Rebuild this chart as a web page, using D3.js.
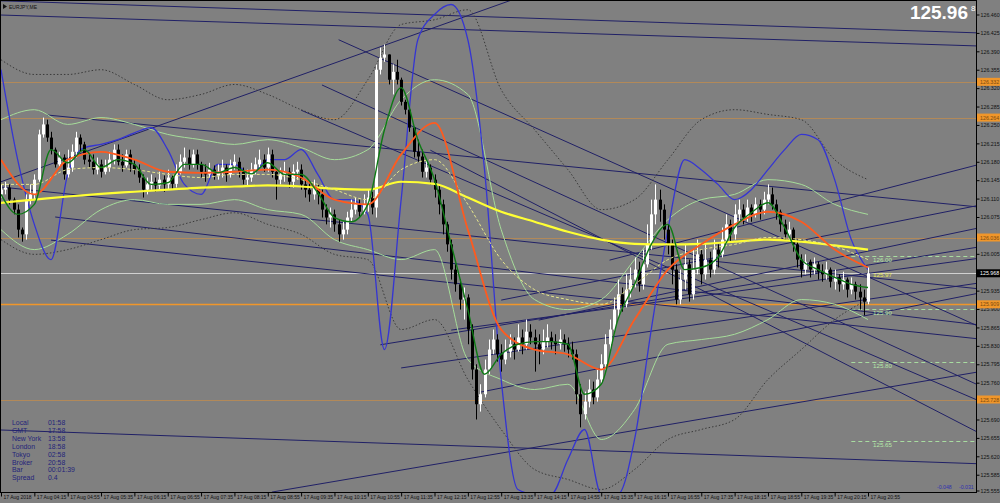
<!DOCTYPE html>
<html><head><meta charset="utf-8">
<script src="https://cdn.jsdelivr.net/npm/d3@7"></script>
<style>body{margin:0;background:#808080;}svg{display:block}</style>
</head><body><svg id="c" width="1000" height="503"></svg>
<script>
const symbol = "EURJPY,ME";
const timeLabels = ["17 Aug 2018","17 Aug 04:15","17 Aug 04:55","17 Aug 05:35","17 Aug 06:15","17 Aug 06:55","17 Aug 07:35","17 Aug 08:15","17 Aug 08:55","17 Aug 09:35","17 Aug 10:15","17 Aug 10:55","17 Aug 11:35","17 Aug 12:15","17 Aug 12:55","17 Aug 13:35","17 Aug 14:15","17 Aug 14:55","17 Aug 15:35","17 Aug 16:15","17 Aug 16:55","17 Aug 17:35","17 Aug 18:15","17 Aug 18:55","17 Aug 19:35","17 Aug 20:15","17 Aug 20:55"];
const priceTicks = [126.460,126.425,126.390,126.355,126.320,126.285,126.250,126.215,126.180,126.145,126.110,126.075,126.040,126.005,125.970,125.935,125.900,125.865,125.830,125.795,125.760,125.725,125.690,125.655,125.620,125.585,125.555];
const firstOpen = 126.118;
const closes = [126.127,126.131,126.108,126.089,126.051,126.042,126.108,126.118,126.146,126.232,
126.251,126.226,126.203,126.175,126.188,126.156,126.169,126.199,126.226,126.213,
126.184,126.180,126.165,126.175,126.161,126.169,126.184,126.203,126.180,126.173,
126.194,126.175,126.165,126.150,126.127,126.137,126.142,126.135,126.146,126.137,
126.150,126.138,126.161,126.180,126.188,126.175,126.194,126.175,126.161,126.156,
126.165,126.154,126.161,126.169,126.156,126.173,126.180,126.161,126.146,126.150,
126.165,126.175,126.184,126.169,126.194,126.161,126.146,126.156,126.161,126.142,
126.161,126.165,126.137,126.127,126.118,126.131,126.118,126.089,126.074,126.080,
126.061,126.042,126.051,126.074,126.089,126.099,126.085,126.099,126.112,126.093,
126.355,126.378,126.384,126.336,126.351,126.336,126.294,126.279,126.245,126.199,
126.190,126.161,126.169,126.146,126.127,126.099,126.061,126.023,125.975,125.947,
125.918,125.922,125.861,125.785,125.719,125.738,125.785,125.823,125.842,125.814,
125.804,125.819,125.833,125.823,125.846,125.833,125.857,125.846,125.833,125.823,
125.838,125.846,125.838,125.833,125.842,125.833,125.823,125.814,125.738,125.700,
125.724,125.747,125.732,125.766,125.795,125.833,125.861,125.899,125.928,125.909,
125.937,125.956,125.975,125.947,125.985,126.023,126.080,126.108,126.089,126.051,
126.023,125.975,125.918,125.956,125.985,125.928,125.975,126.004,125.966,125.994,
125.975,126.013,126.004,126.032,126.061,126.042,126.080,126.089,126.074,126.093,
126.080,126.099,126.089,126.108,126.118,126.099,126.085,126.061,126.042,126.051,
126.023,125.994,125.975,125.990,125.975,125.985,125.971,125.966,125.975,125.952,
125.960,125.947,125.956,125.937,125.947,125.933,125.922,125.914,125.968];
const highs = [126.137,126.142,126.137,126.112,126.099,126.055,126.118,126.137,126.156,126.241,
126.264,126.260,126.237,126.207,126.199,126.194,126.203,126.213,126.237,126.232,
126.218,126.194,126.194,126.188,126.184,126.184,126.199,126.213,126.213,126.194,
126.203,126.203,126.184,126.175,126.156,126.150,126.156,126.150,126.161,126.154,
126.165,126.156,126.175,126.194,126.207,126.203,126.203,126.203,126.180,126.175,
126.178,126.173,126.175,126.184,126.175,126.184,126.194,126.188,126.169,126.165,
126.178,126.188,126.203,126.194,126.207,126.203,126.165,126.169,126.180,126.169,
126.175,126.180,126.175,126.146,126.142,126.146,126.137,126.127,126.099,126.093,
126.089,126.070,126.066,126.085,126.108,126.112,126.108,126.118,126.127,126.123,
126.365,126.397,126.403,126.384,126.365,126.374,126.340,126.298,126.283,126.245,
126.222,126.203,126.184,126.175,126.156,126.137,126.108,126.066,126.032,125.985,
125.956,125.941,125.928,125.871,125.795,125.757,125.804,125.842,125.861,125.852,
125.833,125.842,125.852,125.846,125.871,125.861,125.880,125.871,125.861,125.852,
125.861,125.871,125.857,125.852,125.861,125.852,125.846,125.838,125.823,125.757,
125.743,125.766,125.762,125.785,125.814,125.852,125.880,125.922,125.956,125.941,
125.966,125.979,125.998,125.990,126.013,126.061,126.108,126.137,126.127,126.099,
126.061,126.032,125.985,125.975,126.023,125.994,126.013,126.032,126.013,126.023,
126.009,126.032,126.023,126.055,126.080,126.070,126.099,126.108,126.099,126.108,
126.099,126.112,126.108,126.123,126.137,126.131,126.108,126.089,126.070,126.066,
126.055,126.032,126.004,126.004,125.994,125.998,125.990,125.985,125.990,125.979,
125.975,125.966,125.971,125.960,125.960,125.952,125.947,125.937,125.979];
const lows = [126.112,126.118,126.099,126.080,126.036,126.028,126.032,126.099,126.108,126.142,
126.226,126.218,126.194,126.169,126.169,126.146,126.150,126.161,126.188,126.199,
126.175,126.169,126.156,126.156,126.150,126.156,126.161,126.175,126.173,126.161,
126.169,126.161,126.156,126.140,126.112,126.118,126.127,126.123,126.127,126.123,
126.127,126.127,126.131,126.156,126.169,126.165,126.169,126.165,126.150,126.142,
126.150,126.146,126.146,126.150,126.142,126.150,126.165,126.150,126.137,126.135,
126.142,126.156,126.169,126.161,126.161,126.150,126.108,126.137,126.142,126.131,
126.131,126.146,126.127,126.112,126.104,126.108,126.099,126.074,126.061,126.055,
126.047,126.028,126.032,126.042,126.066,126.080,126.074,126.080,126.085,126.080,
126.074,126.346,126.370,126.327,126.308,126.327,126.287,126.270,126.237,126.188,
126.180,126.150,126.150,126.137,126.112,126.080,126.042,126.009,125.956,125.933,
125.899,125.880,125.833,125.766,125.690,125.705,125.732,125.776,125.814,125.800,
125.781,125.795,125.808,125.804,125.819,125.814,125.823,125.833,125.781,125.795,
125.814,125.827,125.823,125.814,125.823,125.819,125.808,125.804,125.719,125.675,
125.690,125.713,125.719,125.724,125.757,125.785,125.823,125.852,125.884,125.895,
125.903,125.922,125.941,125.933,125.937,125.979,126.013,126.061,126.066,126.032,
126.004,125.947,125.909,125.909,125.937,125.914,125.918,125.966,125.947,125.956,
125.960,125.966,125.979,125.998,126.023,126.028,126.032,126.066,126.061,126.066,
126.066,126.074,126.070,126.080,126.099,126.089,126.070,126.047,126.032,126.032,
126.009,125.979,125.960,125.966,125.960,125.966,125.956,125.952,125.956,125.941,
125.937,125.933,125.937,125.922,125.928,125.918,125.899,125.888,125.909];

// indicator lines sampled every 4 bars
const fastMA = [126.118,126.080,126.099,126.203,126.178,126.203,126.169,126.184,126.175,126.137,126.140,126.175,126.175,126.159,126.169,126.157,126.178,126.156,126.156,126.121,126.074,126.066,126.099,126.241,126.321,126.222,126.146,126.023,125.899,125.776,125.814,125.833,125.838,125.838,125.833,125.738,125.757,125.880,125.947,126.023,126.061,125.975,125.979,125.998,126.055,126.083,126.102,126.055,125.994,125.975,125.960,125.947,125.941];
const blueBand = [126.355,126.184,126.061,125.994,126.156,126.207,126.213,126.222,126.235,126.245,126.203,126.137,126.118,126.175,126.175,126.156,126.184,126.184,126.203,126.156,126.108,126.108,126.080,125.823,126.108,126.412,126.460,126.479,126.412,126.165,125.766,125.557,125.548,125.548,125.614,125.671,125.548,125.548,125.652,125.861,126.051,126.184,126.165,126.137,126.108,126.127,126.165,126.203,126.232,126.222,126.146,126.032,125.975];
// indicator lines sampled every 8 bars
const slowMA = [126.102,126.108,126.114,126.119,126.123,126.127,126.131,126.133,126.135,126.133,126.129,126.127,126.142,126.138,126.112,126.085,126.066,126.047,126.032,126.024,126.023,126.024,126.028,126.032,126.028,126.021,126.013];
const midMA = [126.184,126.118,126.184,126.199,126.184,126.161,126.159,126.161,126.165,126.150,126.108,126.099,126.194,126.254,126.051,125.861,125.823,125.814,125.785,125.880,125.975,126.023,126.061,126.085,126.066,126.013,125.979];
const dashMA = [126.137,126.137,126.165,126.169,126.165,126.156,126.150,126.156,126.156,126.146,126.127,126.108,126.165,126.184,126.099,125.994,125.937,125.918,125.909,125.947,125.994,126.013,126.023,126.036,126.032,126.019,125.994];
const envUpper = [126.260,126.279,126.251,126.264,126.251,126.232,126.222,126.213,126.222,126.207,126.184,126.203,126.298,126.336,126.308,126.051,125.918,125.899,125.918,125.994,126.070,126.108,126.118,126.146,126.137,126.099,126.080];
const envLower = [126.051,126.013,126.042,126.089,126.108,126.099,126.099,126.108,126.089,126.080,126.032,126.013,125.994,126.013,125.804,125.766,125.747,125.757,125.652,125.709,125.833,125.842,125.852,125.880,125.918,125.909,125.880];
const dotUpper = [126.374,126.346,126.346,126.355,126.327,126.298,126.308,126.327,126.308,126.279,126.260,126.336,126.441,126.450,126.469,126.317,126.241,126.165,126.089,126.108,126.184,126.260,126.279,126.270,126.260,126.184,126.146];
const dotLower = [126.032,126.004,126.013,126.032,126.051,126.055,126.070,126.083,126.061,126.042,126.004,125.994,125.861,125.880,125.766,125.671,125.595,125.576,125.557,125.595,125.652,125.671,125.690,125.766,125.823,125.880,125.918];

// horizontal levels
const pivotLevels = [126.332,126.264,126.036,125.909,125.728];
const roundLevels = [126.00,125.90,125.80,125.65];
const bidPrice = 125.968;
// trend lines: start bar, start price, second bar, second price (rays to the right)
const tlBar1 = [0,0,0,11,0,13,12,0,65,81,77,103,72,91,96,115,129,146,120,108];
const tlPrice1 = [126.486,126.459,126.142,126.269,126.132,126.075,126.031,125.670,125.552,126.412,126.326,126.202,126.278,125.832,125.788,125.742,125.879,125.993,125.917,125.860];
const tlBar2 = [223,223,117,223,200,200,223,223,223,223,223,223,223,223,223,223,223,223,223,223];
const tlPrice2 = [126.428,126.403,126.472,126.103,125.967,125.902,125.853,125.609,125.765,125.908,125.797,125.712,125.765,126.003,125.936,125.912,126.035,126.151,126.079,125.984];

const infoLabels = ["Local","GMT","New York","London","Tokyo","Broker","Bar","Spread"];
const infoValues = ["01:58","17:58","13:58","18:58","02:58","20:58","00:01:39","0.4"];
const cornerValues = ["-0.048","-0.031"];

const W=1000,H=503,PR=976,PB=492;
const FONT = "'Liberation Sans', Arial, sans-serif";
const svg = d3.select('#c');
const x = d3.scaleLinear().domain([0,208]).range([1,868]);
const y = d3.scaleLinear().domain([125.555,126.460]).range([490.5,14.5]);

svg.append('rect').attr('width',W).attr('height',H).attr('fill','#808080');
svg.append('defs').append('clipPath').attr('id','clip').append('rect').attr('x',0).attr('y',0).attr('width',PR).attr('height',PB);
const g = svg.append('g').attr('clip-path','url(#clip)');

// pivot levels (orange)
g.selectAll('.pv').data(pivotLevels).join('line')
  .attr('x1',0).attr('x2',PR).attr('y1',d=>Math.round(y(d))+0.5).attr('y2',d=>Math.round(y(d))+0.5)
  .attr('stroke','#f0962a').attr('stroke-width',(d,i)=>i===3?1.5:1)
  .attr('opacity',(d,i)=>i===3?1:0.45);
// bid line
g.append('line').attr('x1',0).attr('x2',PR).attr('y1',Math.round(y(bidPrice))+0.5).attr('y2',Math.round(y(bidPrice))+0.5)
  .attr('stroke','#d0d0d0').attr('stroke-width',1);
// round levels (dashed light green) on the right
g.selectAll('.rl').data(roundLevels).join('line')
  .attr('x1',x(204)).attr('x2',PR).attr('y1',d=>Math.round(y(d))+0.5).attr('y2',d=>Math.round(y(d))+0.5)
  .attr('stroke','#a8dca0').attr('stroke-dasharray','4,3').attr('stroke-width',1);

// trend lines
const tl = tlBar1.map((b,i)=>{
  const x1=x(b),y1=y(tlPrice1[i]),x2=x(tlBar2[i]),y2=y(tlPrice2[i]);
  const xe=PR, ye=y1+(y2-y1)*(xe-x1)/(x2-x1);
  return {x1,y1,xe,ye};
});
g.selectAll('.tl').data(tl).join('line')
  .attr('x1',d=>d.x1).attr('y1',d=>d.y1).attr('x2',d=>d.xe).attr('y2',d=>d.ye)
  .attr('stroke','#202066').attr('stroke-width',1);

const idx4 = d3.range(0,209,4), idx8 = d3.range(0,209,8);
const mk = (idx)=>d3.line().x((d,i)=>x(idx[i])).y(d=>y(d)).curve(d3.curveMonotoneX);
function path(data, idx, color, w, dash){
  g.append('path').attr('d',mk(idx)(data)).attr('fill','none').attr('stroke',color)
   .attr('stroke-width',w).attr('stroke-dasharray',dash||null).attr('stroke-linejoin','round');
}
path(dotUpper, idx8, '#3a3a3a', 1, '1.5,2');
path(dotLower, idx8, '#3a3a3a', 1, '1.5,2');
path(envUpper, idx8, '#a6dd9a', 1);
path(envLower, idx8, '#a6dd9a', 1);
path(blueBand, idx4, '#3535d2', 1.3);

// candles
const candles = closes.map((c,i)=>({i,o:i===0?firstOpen:closes[i-1],c,h:highs[i],l:lows[i]}));
const cg = g.append('g');
cg.selectAll('.wk').data(candles).join('line')
  .attr('x1',d=>Math.round(x(d.i))+0.5).attr('x2',d=>Math.round(x(d.i))+0.5)
  .attr('y1',d=>y(d.h)).attr('y2',d=>y(d.l))
  .attr('stroke',d=>d.c>=d.o?'#ffffff':'#000000').attr('stroke-width',1);
cg.selectAll('.bd').data(candles).join('rect')
  .attr('x',d=>Math.round(x(d.i))-1).attr('width',3)
  .attr('y',d=>y(Math.max(d.o,d.c))).attr('height',d=>Math.max(1,Math.abs(y(d.o)-y(d.c))))
  .attr('fill',d=>d.c>=d.o?'#ffffff':'#000000');

path(slowMA, idx8, '#ffff33', 2.2);
path(dashMA, idx8, '#e6e68a', 1, '3,2');
path(midMA, idx8, '#ff5a1e', 1.8);
path(fastMA, idx4, '#0d7a14', 1.4);

// frame
svg.append('rect').attr('x',0.5).attr('y',0.5).attr('width',PR).attr('height',PB).attr('fill','none').attr('stroke','#000');

// right axis
const ya = svg.append('g').attr('transform',`translate(${PR+0.5},0)`)
  .call(d3.axisRight(y).tickValues(priceTicks).tickSize(3).tickFormat(d3.format('.3f')));
ya.select('.domain').remove();
ya.selectAll('line').attr('stroke','#000');
ya.selectAll('text').attr('font-size',5.3).attr('font-family',FONT).attr('fill','#111').attr('x',4);

// level boxes on axis
const boxes = pivotLevels.map(p=>({p,fill:'#f0962a',tc:'#7a4a10'})).concat([{p:bidPrice,fill:'#000',tc:'#fff'}]);
const bx = svg.append('g');
boxes.forEach(b=>{
  const yy=y(b.p);
  bx.append('rect').attr('x',PR+1).attr('y',yy-4).attr('width',24).attr('height',8).attr('fill',b.fill);
  bx.append('text').attr('x',PR+4).attr('y',yy+2).attr('font-size',5.3).attr('font-family',FONT)
    .attr('fill',b.tc).text(d3.format('.3f')(b.p));
});

// bottom axis
const xa = svg.append('g').attr('transform',`translate(0,${PB+0.5})`)
  .call(d3.axisBottom(x).tickValues(idx8).tickSize(4).tickFormat((d,i)=>timeLabels[i]));
xa.select('.domain').remove();
xa.selectAll('line').attr('stroke','#000');
xa.selectAll('text').attr('font-size',5).attr('font-family',FONT).attr('fill','#111')
  .attr('text-anchor','start').attr('dx',2).attr('y',3);

// round level labels
svg.selectAll('.rlt').data(roundLevels).join('text')
  .attr('x',x(208)+5).attr('y',d=>y(d)+6).attr('font-size',6.2).attr('font-family',FONT)
  .attr('fill','#b4e6a8').text(d=>d3.format('.2f')(d));
svg.append('text').attr('x',x(208)+5).attr('y',y(bidPrice)+4).attr('font-size',6.2).attr('font-family',FONT)
  .attr('fill','#e8e860').text(d3.format('.2f')(bidPrice));

// symbol
svg.append('path').attr('d','M3,4 L7,6.5 L3,9 Z').attr('fill','#111');
svg.append('text').attr('x',9).attr('y',8.5).attr('font-size',5).attr('font-family',FONT).attr('fill','#111').text(symbol);

// big price
const bp = d3.format('.3f')(bidPrice);
svg.append('text').attr('x',968).attr('y',19).attr('text-anchor','end').attr('font-size',19).attr('font-weight','bold')
  .attr('font-family',FONT).attr('fill','#fff').text(bp.slice(0,-1));
svg.append('text').attr('x',971).attr('y',11).attr('font-size',8).attr('font-family',FONT).attr('fill','#fff').text(bp.slice(-1));

// info box
infoLabels.forEach((l,i)=>{
  svg.append('text').attr('x',12).attr('y',425+i*7.9).attr('font-size',6.9).attr('font-family',FONT).attr('fill','#24247a').text(l);
  svg.append('text').attr('x',48).attr('y',425+i*7.9).attr('font-size',6.9).attr('font-family',FONT).attr('fill','#24247a').text(infoValues[i]);
});
// corner values
svg.append('text').attr('x',937).attr('y',489).attr('font-size',5.2).attr('font-family',FONT).attr('fill','#3030b0').text(cornerValues[0]);
svg.append('text').attr('x',959).attr('y',489).attr('font-size',5.2).attr('font-family',FONT).attr('fill','#3030b0').text(cornerValues[1]);
</script>
</body></html>
